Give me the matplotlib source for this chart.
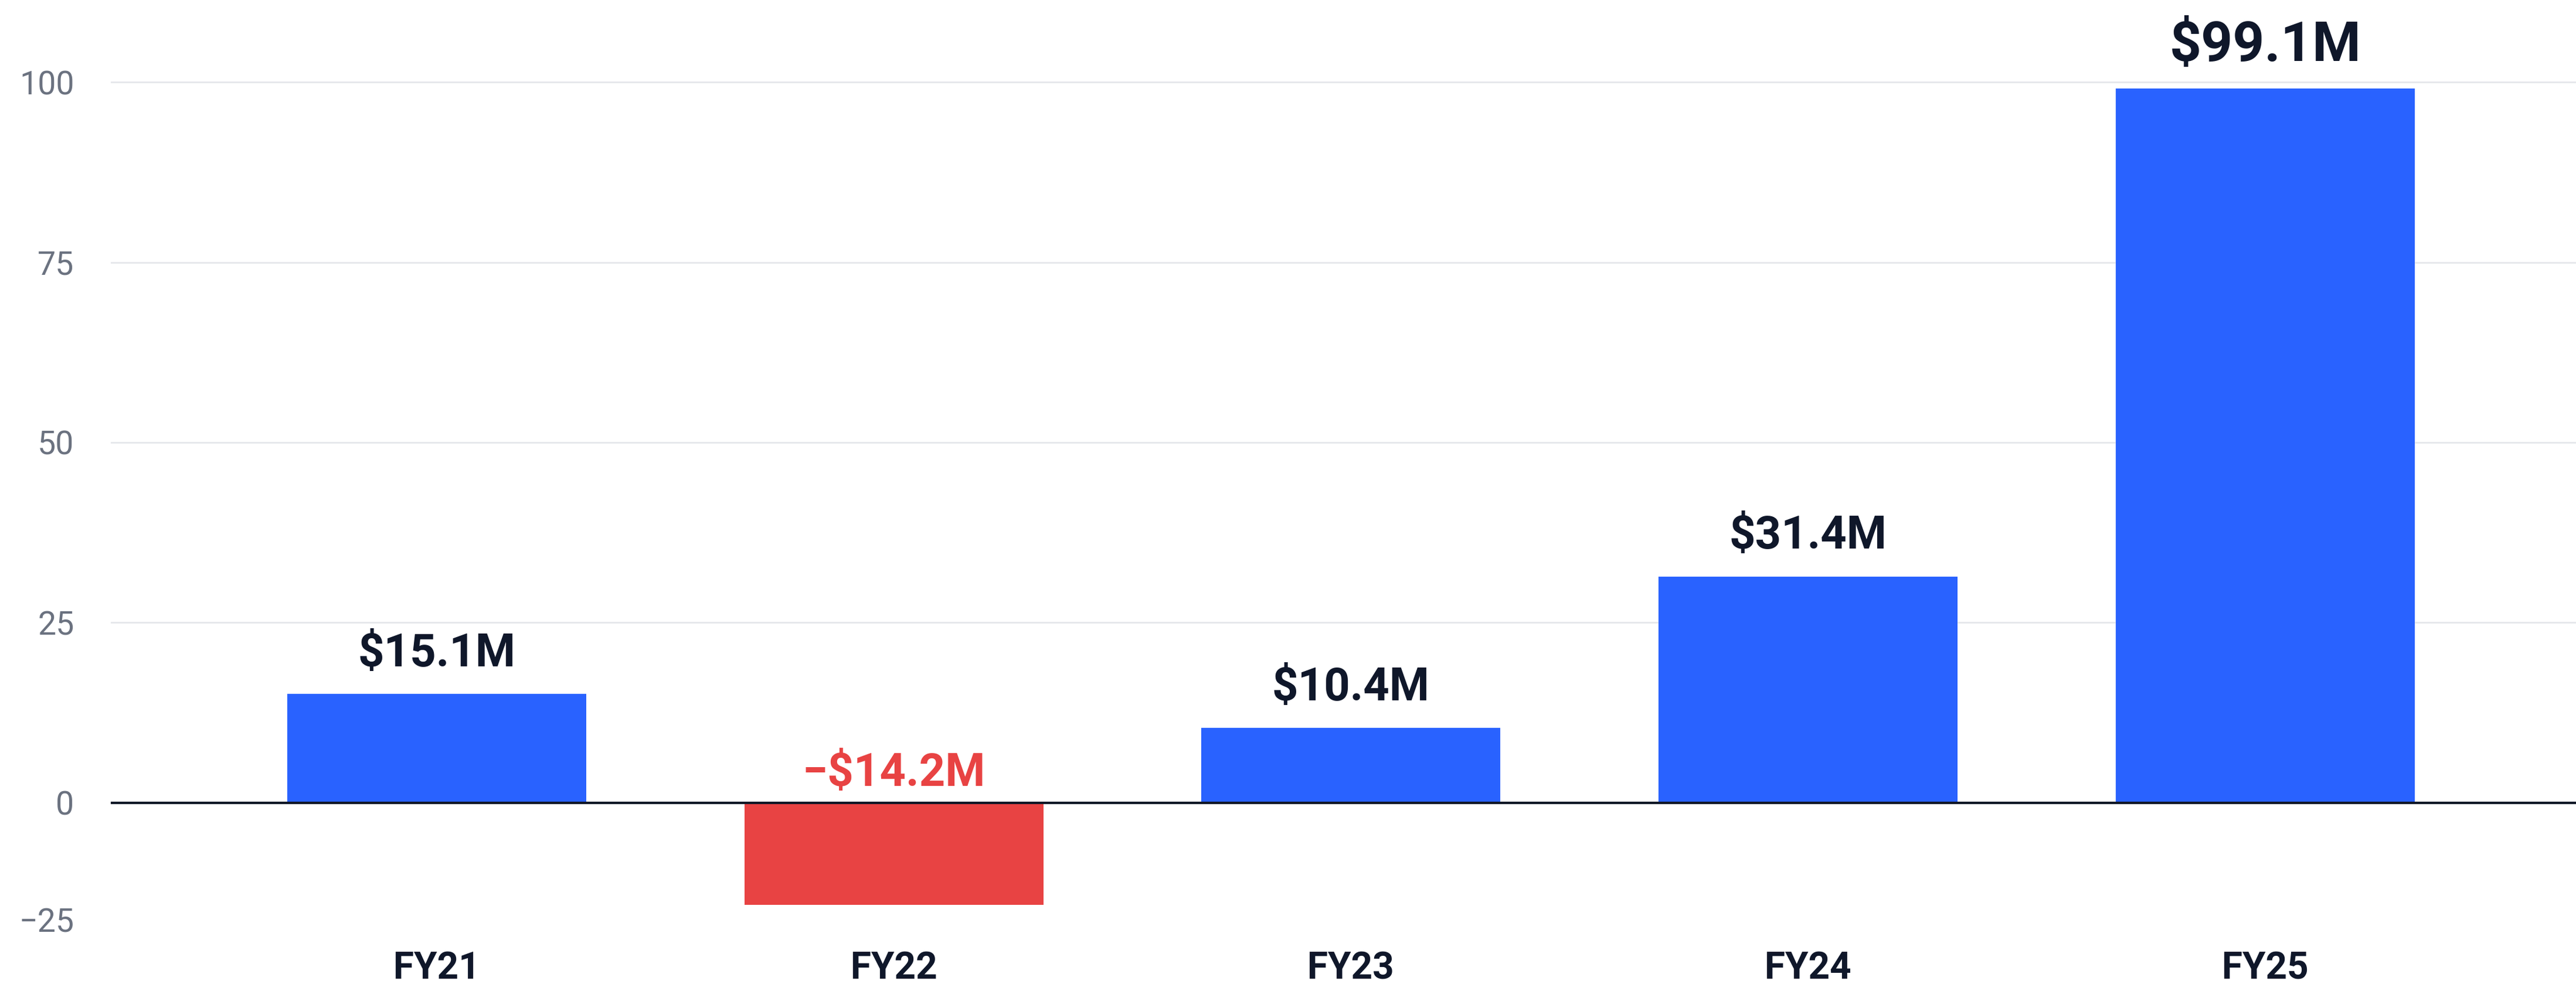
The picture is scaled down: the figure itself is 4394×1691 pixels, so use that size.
import matplotlib.pyplot as plt
import matplotlib.transforms as mtrans
import numpy as np

# Data
years = ['FY21', 'FY22', 'FY23', 'FY24', 'FY25']
values = [15.1, -14.2, 10.4, 31.4, 99.1]
labels = ['$15.1M', '\u2212$14.2M', '$10.4M', '$31.4M', '$99.1M']
yticks = [0, 25, 50, 75, 100]
ytick_labels = ['0', '25', '50', '75', '100']
bottom_label = '\u221225'

BLUE = '#2962ff'
RED = '#e84343'
DARK = '#0f172a'
GRAY = '#6b7280'

plt.rcParams['font.family'] = ['Roboto', 'DejaVu Sans']

fig = plt.figure(figsize=(43.94, 16.91), dpi=100)
ax = fig.add_axes([0.043, 0.0686, 0.957, 0.9314])

x = np.arange(len(years))
colors = [RED if v < 0 else BLUE for v in values]
ax.bar(x, values, width=0.654, color=colors, zorder=3)

# gridlines and zero line
for t in yticks[1:]:
    ax.axhline(t, color='#e5e7eb', lw=2, zorder=1)
ax.axhline(0, color='#111827', lw=3, zorder=4)

ymin, ymax = -16.7, 111.4
ax.set_xlim(-0.713, 4.68)
ax.set_ylim(ymin, ymax)

ax.set_yticks(yticks)
ax.set_yticklabels(ytick_labels)
ax.tick_params(axis='y', length=0, pad=45, labelsize=40, labelcolor=GRAY)

# the lowest label sits at the bottom edge of the axis
shift = mtrans.ScaledTranslation(-45 / 72, 0, fig.dpi_scale_trans)
ax.text(0, ymin, bottom_label, transform=ax.get_yaxis_transform() + shift,
        ha='right', va='center', fontsize=40, color=GRAY)

ax.set_xticks(x)
ax.set_xticklabels(years, fontweight='bold', color=DARK)
ax.tick_params(axis='x', length=0, pad=34, labelsize=46)

for s in ax.spines.values():
    s.set_visible(False)

# value labels
for i, (v, lab) in enumerate(zip(values, labels)):
    if v >= 0:
        size = 68 if i == len(values) - 1 else 56
        ax.annotate(lab, (i, v), xytext=(0, 34), textcoords='offset points',
                    ha='center', va='baseline', fontsize=size,
                    fontweight='bold', color=DARK)
    else:
        ax.annotate(lab, (i, 0), xytext=(0, 21), textcoords='offset points',
                    ha='center', va='baseline', fontsize=56,
                    fontweight='bold', color=RED)

fig.savefig('out.png', dpi=100)
